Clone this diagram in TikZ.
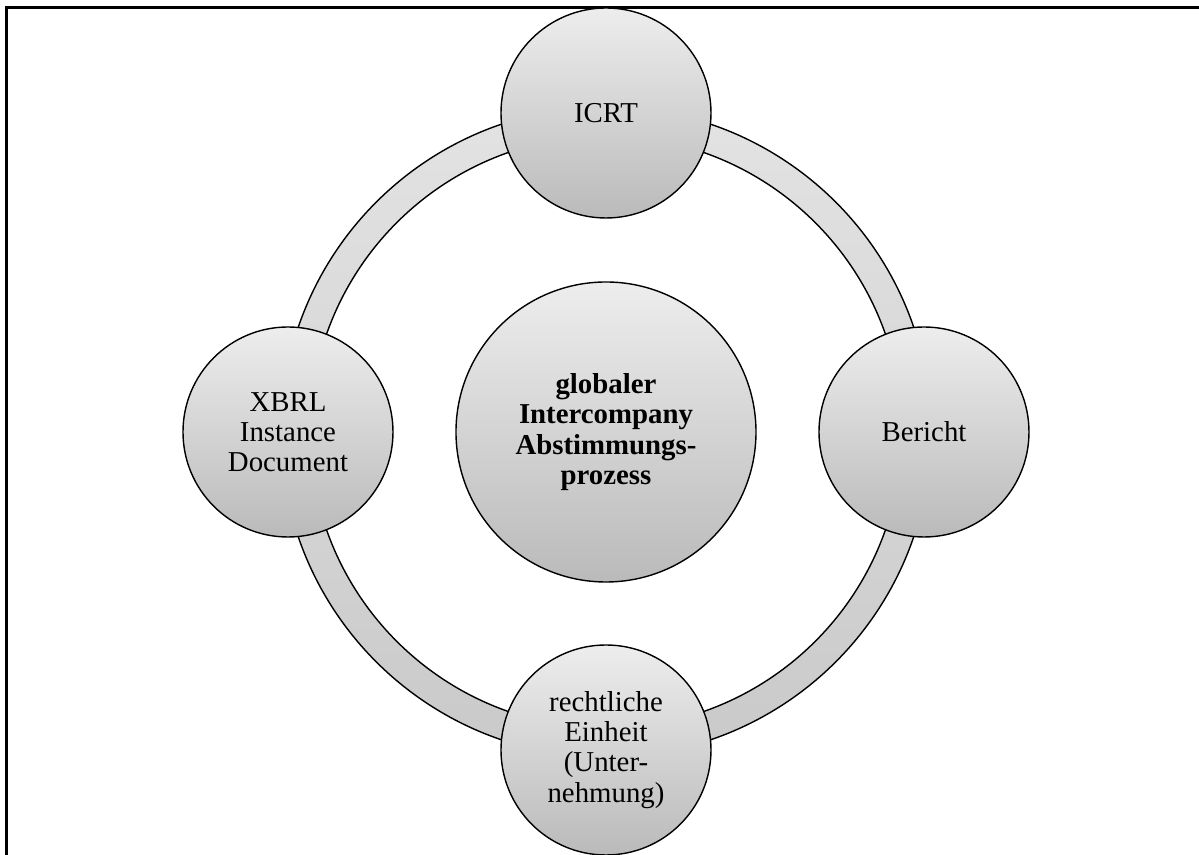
\documentclass[tikz,border=0pt]{standalone}
\usepackage{fontspec}
\setmainfont{Liberation Serif}
\usetikzlibrary{positioning}

\tikzset{
    kreis/.style={circle, draw=black, line width=0.8pt, top color=black!7, bottom color=black!27,
        minimum size=4.2cm, inner sep=0pt, align=center, font=\fontsize{16.4}{17.2}\selectfont},
    mitte/.style={kreis, minimum size=6cm, font=\fontsize{16.4}{17.2}\selectfont\bfseries}
}

\begin{document}
\begin{tikzpicture}

    \useasboundingbox (-12.12,-8.46) rectangle (11.86,8.64);
    \clip (-12.12,-8.46) rectangle (11.86,8.64);

    % Rahmen
    \draw [line width=1.7pt] (-11.98,-8.6) -- (-11.98,8.48) -- (12,8.48);

    % Ring
    \draw [line width=0.8pt, top color=black!11, bottom color=black!21, even odd rule]
        (0,0) circle (6.5) (0,0) circle (5.92);

    \node [mitte] (prozess) at (0,0) {globaler\\Intercompany\\Abstimmungs-\\prozess};

    \node [kreis] (icrt) at (0,6.38) {ICRT};
    \node [kreis] (bericht) at (6.36,0) {Bericht};
    \node [kreis] (einheit) at (0,-6.36) {rechtliche\\Einheit\\(Unter-\\nehmung)};
    \node [kreis] (xbrl) at (-6.36,0) {XBRL\\Instance\\Document};

\end{tikzpicture}
\end{document}
